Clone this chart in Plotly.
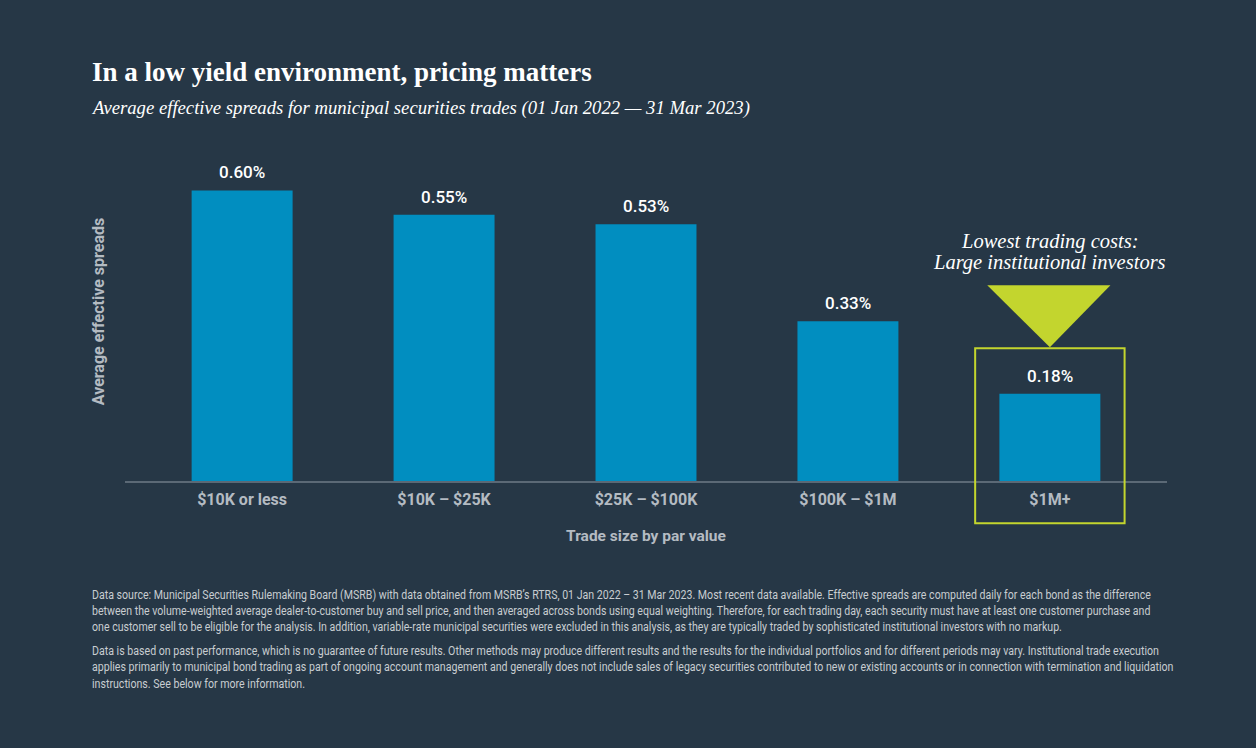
import plotly.graph_objects as go

# Data
categories = ["$10K or less", "$10K – $25K", "$25K – $100K", "$100K – $1M", "$1M+"]
spreads = [0.60, 0.55, 0.53, 0.33, 0.18]
value_labels = ["0.60%", "0.55%", "0.53%", "0.33%", "0.18%"]

footnote_lines = [
    "Data source: Municipal Securities Rulemaking Board (MSRB) with data obtained from MSRB’s RTRS, 01 Jan 2022 – 31 Mar 2023. "
    "Most recent data available. Effective spreads are computed daily for each bond as the difference",
    "between the volume-weighted average dealer-to-customer buy and sell price, and then averaged across bonds using equal weighting. "
    "Therefore, for each trading day, each security must have at least one customer purchase and",
    "one customer sell to be eligible for the analysis. In addition, variable-rate municipal securities were excluded in this analysis, "
    "as they are typically traded by sophisticated institutional investors with no markup.",
    "Data is based on past performance, which is no guarantee of future results. Other methods may produce different results "
    "and the results for the individual portfolios and for different periods may vary. Institutional trade execution",
    "applies primarily to municipal bond trading as part of ongoing account management and generally does not include sales "
    "of legacy securities contributed to new or existing accounts or in connection with termination and liquidation",
    "instructions. See below for more information.",
]
footnote_y = [595, 611, 627, 651, 667, 684]

BG = "#263746"
BAR = "#018EC0"
LIME = "#C3D52E"
GREY = "#B4BBC2"
NOTE = "#C8CDD1"
SERIF = "Liberation Serif, Times New Roman, serif"
SANS = "Roboto, Arial, sans-serif"

W, H = 1256, 748
L, R, T, B = 125, 1167, 141.5, 481
XR = [-0.58, 4.58]
YR = [0, 0.7]


def px(x):
    return (x - L) / (R - L)


def py(y):
    return (B - y) / (B - T)


def cx(i):
    # category index -> paper x
    return (i - XR[0]) / (XR[1] - XR[0])


def vy(v):
    # value -> paper y
    return (v - YR[0]) / (YR[1] - YR[0])


fig = go.Figure()

fig.add_trace(go.Bar(
    x=categories,
    y=spreads,
    width=0.5,
    marker=dict(color=BAR, line=dict(width=0)),
    hoverinfo="skip",
))

# value labels above the bars
for c, v, t in zip(categories, spreads, value_labels):
    fig.add_annotation(x=c, y=v, text=t, showarrow=False, yshift=18,
                       font=dict(family=SANS, size=17, color="white", weight=500))

# highlight for the largest trade size
last = len(categories) - 1
fig.add_shape(type="rect", xref="paper", yref="paper",
              x0=cx(last - 0.37), x1=cx(last + 0.37), y0=vy(-0.087), y1=vy(0.274),
              line=dict(color=LIME, width=2), fillcolor="rgba(0,0,0,0)")
fig.add_shape(type="path", xref="paper", yref="paper",
              path=f"M {cx(last - 0.31)} {vy(0.404)} L {cx(last + 0.30)} {vy(0.404)} L {cx(last)} {vy(0.276)} Z",
              line=dict(width=0), fillcolor=LIME)
for txt, yy in [("Lowest trading costs:", 241), ("Large institutional investors", 262)]:
    fig.add_annotation(xref="paper", yref="paper", x=cx(last), y=py(yy), text=txt,
                       showarrow=False, xanchor="center", yanchor="middle",
                       font=dict(family=SERIF, size=20.5, color="white", style="italic"))

# titles
fig.add_annotation(xref="paper", yref="paper", x=px(90), y=py(71), xanchor="left", yanchor="middle",
                   text="In a low yield environment, pricing matters", showarrow=False,
                   font=dict(family=SERIF, size=27, color="white", weight="bold"))
fig.add_annotation(xref="paper", yref="paper", x=px(89), y=py(107), xanchor="left", yanchor="middle",
                   text="Average effective spreads for municipal securities trades (01 Jan 2022 — 31 Mar 2023)",
                   showarrow=False,
                   font=dict(family=SERIF, size=18.7, color="white", style="italic"))

# footnotes, one annotation per line
note_start = len(fig.layout.annotations)
for line, yy in zip(footnote_lines, footnote_y):
    fig.add_annotation(xref="paper", yref="paper", x=px(90), y=py(yy), xanchor="left", yanchor="middle",
                       text=line, showarrow=False, align="left",
                       font=dict(family=SANS, size=13, color=NOTE))
para1 = list(range(note_start, note_start + 3))
para2 = list(range(note_start + 3, note_start + 6))

fig.update_layout(
    width=W, height=H,
    margin=dict(l=L, r=W - R, t=T, b=H - B),
    paper_bgcolor=BG, plot_bgcolor=BG,
    showlegend=False,
)
fig.update_xaxes(
    range=XR, showgrid=False, zeroline=False,
    showline=True, linecolor="#5B6976", linewidth=1.5,
    ticks="", ticklabelstandoff=3,
    tickfont=dict(family=SANS, size=16, color=GREY, weight="bold"),
    title=dict(text="Trade size by par value", standoff=22,
               font=dict(family=SANS, size=15.5, color=GREY, weight="bold")),
)
fig.update_yaxes(
    range=YR, showgrid=False, zeroline=False, showticklabels=False,
    title=dict(text="Average effective spreads", standoff=15,
               font=dict(family=SANS, size=16, color=GREY, weight="bold")),
)

# remove page margin and squeeze footnote text to a condensed look
post = """
document.body.style.margin = '0';
document.body.style.overflow = 'hidden';
var gd = document.getElementById('{plot_id}');
function squeeze(idx, target) {
  var texts = idx.map(function(i){
    return gd.querySelector('.annotation[data-index="' + i + '"] text.annotation-text');
  }).filter(function(t){ return t; });
  if (!texts.length) return;
  var k = target / texts[0].getBBox().width;
  texts.forEach(function(t){
    var x0 = t.getBBox().x;
    t.setAttribute('transform', 'translate(' + x0 + ',0) scale(' + k + ',1) translate(' + (-x0) + ',0)');
  });
}
squeeze(%s, 1059);
squeeze(%s, 1068);
""" % (para1, para2)

fig.write_html("out.html", post_script=post, config={"displayModeBar": False})
